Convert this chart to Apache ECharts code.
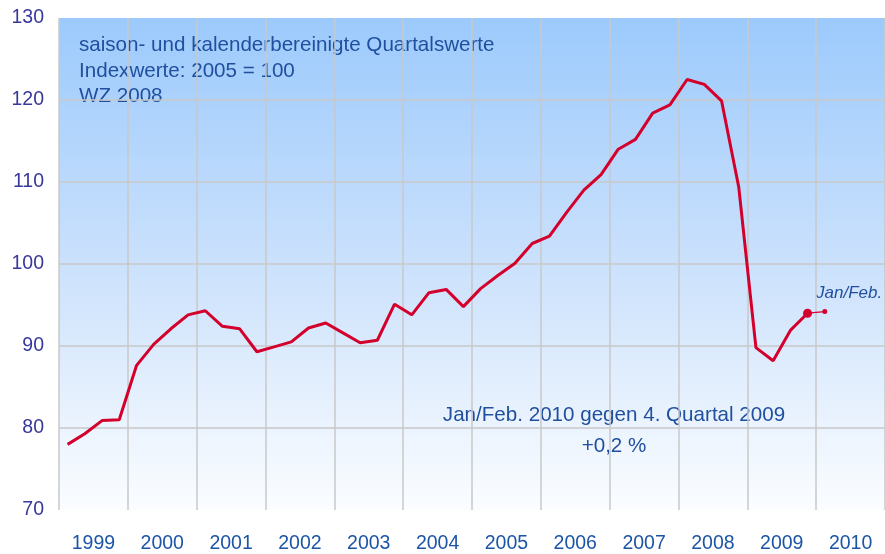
<!DOCTYPE html>
<html>
<head>
<meta charset="utf-8">
<script src="https://cdn.jsdelivr.net/npm/echarts@6/dist/echarts.min.js"></script>
<style>
  html, body { margin: 0; padding: 0; background: #fff; }
  #chart { width: 885px; height: 554px; }
</style>
</head>
<body>
<div id="chart"></div>
<script>
// Jahre (Beschriftung der x-Achse)
const years = ['1999', '2000', '2001', '2002', '2003', '2004', '2005', '2006', '2007', '2008', '2009', '2010']
// Quartale 1999 Q1 .. 2010 Q4
const quarters = []
years.forEach(y => { for (let q = 1; q <= 4; q++) quarters.push(y + ' Q' + q) })

// Indexwerte 1999 Q1 .. 2009 Q4 (2005 = 100)
const quarterValues = [
  78.0, 79.3, 80.9, 81.0,
  87.6, 90.2, 92.1, 93.8,
  94.3, 92.4, 92.1, 89.3,
  89.9, 90.5, 92.2, 92.8,
  91.6, 90.4, 90.7, 95.1,
  93.8, 96.5, 96.9, 94.8,
  97.0, 98.6, 100.1, 102.5,
  103.4, 106.3, 109.0, 110.9,
  114.0, 115.2, 118.4, 119.4,
  122.5, 121.9, 119.9, 109.4,
  89.8, 88.2, 91.9, 94.0
]
// Jan/Feb 2010 (+0,2 % gegen 4. Quartal 2009)
const janFebValue = 94.2

const yTicks = [70, 80, 90, 100, 110, 120, 130]

const textBlue = '#1f4f9e'
const lineRed = '#d4002c'
const font = 'Liberation Sans, Arial, sans-serif'

const mainData = quarters.map((q, i) => {
  if (i >= quarterValues.length) return null
  if (i === quarterValues.length - 1) {
    return { value: quarterValues[i], symbol: 'circle', symbolSize: 9 }
  }
  return quarterValues[i]
})
const janFebData = quarters.map((q, i) => {
  if (i === quarterValues.length - 1) return quarterValues[i]
  if (i === quarterValues.length) return { value: janFebValue, symbol: 'circle', symbolSize: 5 }
  return null
})

const chart = echarts.init(document.getElementById('chart'))
chart.setOption({
  animation: false,
  textStyle: { fontFamily: font },
  grid: {
    left: 59, right: 0, top: 18, bottom: 44,
    show: true,
    borderWidth: 0,
    backgroundColor: new echarts.graphic.LinearGradient(0, 0, 0, 1, [
      { offset: 0, color: '#9ccafc' },
      { offset: 0.5, color: '#cbe1fc' },
      { offset: 1, color: '#fbfdff' }
    ])
  },
  xAxis: [
    {
      type: 'category',
      data: years,
      boundaryGap: true,
      axisLine: { show: false },
      axisTick: { show: false },
      axisLabel: { color: '#1c55a6', fontSize: 19.5, margin: 24 },
      splitLine: { show: true, lineStyle: { color: '#c9c9c9', width: 1.5 } }
    },
    {
      type: 'category',
      data: quarters,
      boundaryGap: true,
      show: false
    }
  ],
  yAxis: {
    type: 'value',
    min: yTicks[0],
    max: yTicks[yTicks.length - 1],
    interval: 10,
    axisLine: { show: false },
    axisTick: { show: false },
    axisLabel: { color: '#38389a', fontSize: 19.5, margin: 15, padding: [3, 0, 0, 0] },
    splitLine: { show: true, showMinLine: false, showMaxLine: false, lineStyle: { color: '#c9c9c9', width: 1.5 } }
  },
  series: [
    {
      type: 'line',
      xAxisIndex: 1,
      data: mainData,
      symbol: 'none',
      lineStyle: { color: lineRed, width: 3 },
      itemStyle: { color: lineRed }
    },
    {
      type: 'line',
      xAxisIndex: 1,
      data: janFebData,
      symbol: 'none',
      lineStyle: { color: lineRed, width: 1.3 },
      itemStyle: { color: lineRed },
      z: 1
    }
  ],
  graphic: [
    { type: 'text', left: 79, top: 35, style: { text: 'saison- und kalenderbereinigte Quartalswerte', fill: textBlue, font: '20.6px ' + font } },
    { type: 'text', left: 79, top: 61, style: { text: 'Indexwerte: 2005 = 100', fill: textBlue, font: '20.6px ' + font } },
    { type: 'text', left: 79, top: 86, style: { text: 'WZ 2008', fill: textBlue, font: '20.6px ' + font } },
    { type: 'text', left: 816, top: 285, style: { text: 'Jan/Feb.', fill: textBlue, font: 'italic 17px ' + font } },
    { type: 'text', x: 614, y: 415, style: { text: 'Jan/Feb. 2010 gegen 4. Quartal 2009', fill: textBlue, align: 'center', verticalAlign: 'middle', font: '20.6px ' + font } },
    { type: 'text', x: 614, y: 446, style: { text: '+0,2 %', fill: textBlue, align: 'center', verticalAlign: 'middle', font: '20.6px ' + font } }
  ]
})
</script>
</body>
</html>
